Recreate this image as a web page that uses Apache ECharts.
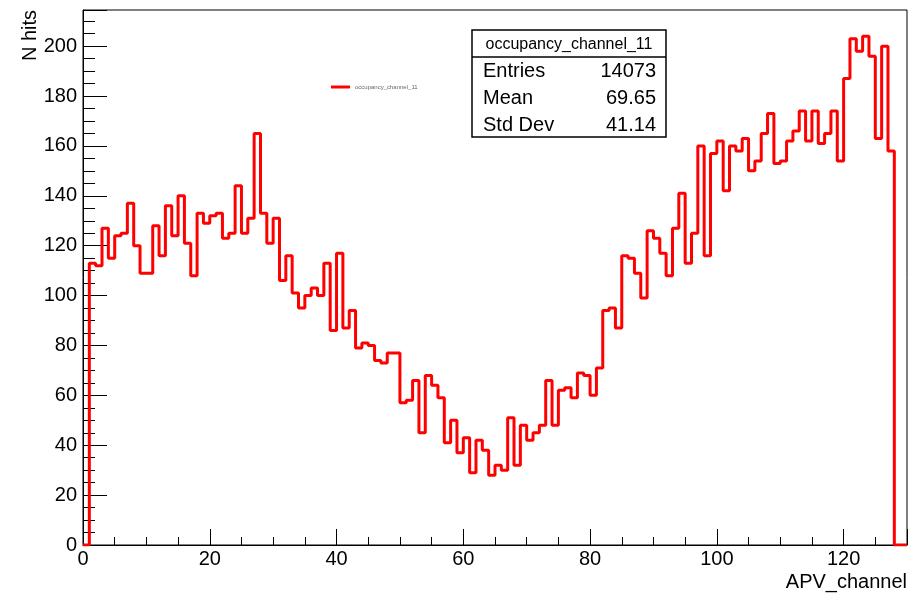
<!DOCTYPE html>
<html><head><meta charset="utf-8">
<script src="https://cdn.jsdelivr.net/npm/echarts@6/dist/echarts.min.js"></script>
<style>html,body{margin:0;padding:0;background:#fff}#c{width:924px;height:593px}</style>
</head><body><div id="c"></div>
<script>
const histName = 'occupancy_channel_11';
const xTitle = 'APV_channel';
const yTitle = 'N hits';
// bin contents for channels 0..129 (bin width 1)
const counts = [
  0,
  113,112,127,115,124,125,137,120,109,109,
  128,116,136,124,140,121,108,133,129,132,
  133,123,125,144,125,131,165,133,121,131,
  106,116,101,95,100,103,100,113,86,117,
  87,94,79,81,80,74,73,77,77,57,
  58,66,45,68,64,59,41,50,37,43,
  29,42,38,28,32,30,51,32,48,42,
  45,48,66,48,62,63,59,69,68,60,
  71,94,95,87,116,115,109,99,126,123,
  117,108,127,141,113,125,160,116,157,162,
  142,160,158,163,150,154,165,173,153,154,
  162,166,174,162,174,161,165,174,154,187,
  203,198,204,196,163,200,158,
  0,0
];
const xTickLabels = [0,20,40,60,80,100,120];
const yTickLabels = [0,20,40,60,80,100,120,140,160,180,200];
const statsNames = ['Entries','Mean','Std Dev'];
const statsValues = ['14073','69.65','41.14'];

const stepData = counts.map((v,i)=>[i,v]);
stepData.push([counts.length, counts[counts.length-1]]);

const FONT = '"Liberation Sans", Arial, Helvetica, sans-serif';
const X0 = 83, Y0 = 10, XR = 907, YB = 545;

const chart = echarts.init(document.getElementById('c'), null, {renderer:'canvas'});

const statsGraphics = [];
const bx = 472, by = 30, bw = 194, bh = 107, titleH = 27, rowH = 27;
statsGraphics.push({type:'rect', shape:{x:bx,y:by,width:bw,height:bh}, style:{fill:'#fff',stroke:'#000',lineWidth:1.5}, z:100});
statsGraphics.push({type:'line', shape:{x1:bx,y1:by+titleH,x2:bx+bw,y2:by+titleH}, style:{stroke:'#000',lineWidth:1.5}, z:101});
statsGraphics.push({type:'text', x:bx+bw/2, y:by+titleH/2+1, style:{text:histName, font:'16px '+FONT, fill:'#000', align:'center', verticalAlign:'middle'}, z:102});
statsNames.forEach((n,i)=>{
  const cy = by + titleH + rowH*(i+0.5) + 1;
  statsGraphics.push({type:'text', x:bx+11, y:cy, style:{text:n, font:'20px '+FONT, fill:'#000', align:'left', verticalAlign:'middle'}, z:102});
  statsGraphics.push({type:'text', x:bx+bw-10, y:cy, style:{text:statsValues[i], font:'20px '+FONT, fill:'#000', align:'right', verticalAlign:'middle'}, z:102});
});

const option = {
  animation:false,
  backgroundColor:'#fff',
  grid:{left:X0, top:Y0, right:924-XR, bottom:593-YB, show:true, borderColor:'#000', borderWidth:1, backgroundColor:'#fff'},
  legend:{
    data:[{name:histName, icon:'rect'}],
    left:326, top:79, itemWidth:19, itemHeight:3, itemGap:5,
    textStyle:{fontSize:6, color:'#666', fontFamily:FONT}
  },
  xAxis:[
    {type:'value', min:0, max:130, interval:20, position:'bottom',
     axisLine:{show:true, lineStyle:{color:'#000', width:1}},
     axisTick:{show:true, inside:true, length:16, lineStyle:{color:'#000', width:1}},
     axisLabel:{margin:4, color:'#000', fontSize:20, fontFamily:FONT,
       formatter:v=> xTickLabels.includes(v) ? String(v) : ''},
     splitLine:{show:false}},
    {type:'value', min:0, max:130, interval:5, position:'bottom',
     axisLine:{show:false}, axisLabel:{show:false}, splitLine:{show:false},
     axisTick:{show:true, inside:true, length:8, lineStyle:{color:'#000', width:1}}}
  ],
  yAxis:[
    {type:'value', min:0, max:214.5, interval:20, position:'left',
     axisLine:{show:true, lineStyle:{color:'#000', width:1}},
     axisTick:{show:true, inside:true, length:24, lineStyle:{color:'#000', width:1}},
     axisLabel:{margin:6, color:'#000', fontSize:20, fontFamily:FONT,
       formatter:v=> yTickLabels.includes(v) ? String(v) : ''},
     splitLine:{show:false}},
    {type:'value', min:0, max:214.5, interval:5, position:'left',
     axisLine:{show:false}, axisLabel:{show:false}, splitLine:{show:false},
     axisTick:{show:true, inside:true, length:12, lineStyle:{color:'#000', width:1}}}
  ],
  series:[{
    name:histName, type:'line', step:'end', data:stepData,
    xAxisIndex:0, yAxisIndex:0, showSymbol:false, symbol:'none',
    lineStyle:{color:'#ff0000', width:3}, itemStyle:{color:'#ff0000'},
    z:10
  }],
  graphic:[
    {type:'text', x:30, y:10, rotation:Math.PI/2, style:{text:yTitle, font:'20px '+FONT, fill:'#000', align:'right', verticalAlign:'middle'}},
    {type:'text', x:XR, y:582, style:{text:xTitle, font:'20px '+FONT, fill:'#000', align:'right', verticalAlign:'middle'}}
  ].concat(statsGraphics)
};
chart.setOption(option);
</script></body></html>
